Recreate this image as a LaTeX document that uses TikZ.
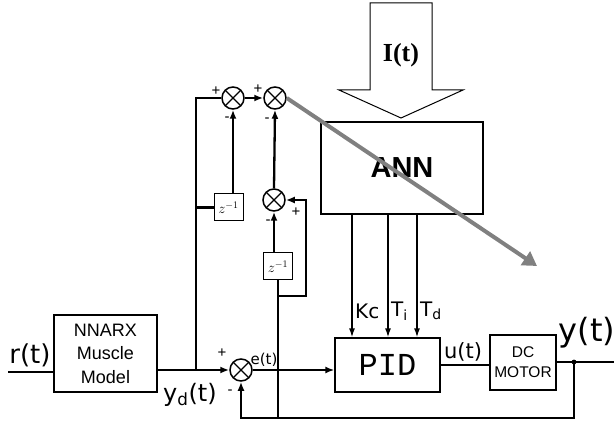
\documentclass[tikz,border=0pt]{standalone}
\usepackage{fontspec}
\setmainfont{Liberation Sans}
\newfontfamily\labfont{DejaVu Sans}
\newfontfamily\serffont{Liberation Serif}
\newfontfamily\codefont{Liberation Mono}
\usetikzlibrary{arrows.meta,positioning}

\tikzset{
  blk/.style={draw, line width=1.3pt, inner sep=0pt, align=center},
  dly/.style={blk, line width=1pt, minimum width=29pt, minimum height=27pt, font=\fontsize{14}{14}\selectfont},
  sumnode/.style={draw, circle, line width=1.5pt, minimum size=22pt, inner sep=0pt,
    path picture={\draw[line width=1.4pt] (path picture bounding box.north west) -- (path picture bounding box.south east)
      (path picture bounding box.north east) -- (path picture bounding box.south west);}},
  sig/.style={line width=2.3pt},
  arr/.style={sig, -{Latex[length=9pt,width=7pt]}},
  gain/.style={line width=1.4pt, -{Latex[length=9pt,width=6pt]}},
  sgn/.style={font=\fontsize{15}{15}\selectfont, inner sep=0pt},
  lab/.style={inner sep=0pt, font=\labfont\fontsize{#1}{#1}\selectfont},
}

\begin{document}
\begin{tikzpicture}[x=1pt,y=-1pt]
\useasboundingbox (0,0) rectangle (614,425);

% blocks
\node[blk, minimum width=103pt, minimum height=77pt, font=\fontsize{18}{23.5}\selectfont] (nnarx) at (105.5,353.5) {NNARX\\Muscle\\Model};
\node[blk, minimum width=105pt, minimum height=54pt, font=\codefont\fontsize{32}{32}\selectfont] (pid) at (387.5,365) {PID};
\node[blk, minimum width=66pt, minimum height=55pt, font=\fontsize{15.5}{20}\selectfont] (motor) at (523,362.5) {DC\\MOTOR};
\node[blk, minimum width=162pt, minimum height=92pt, font=\bfseries\fontsize{29}{29}\selectfont] (ann) at (402,168) {ANN};
\node[dly] (z1) at (228.5,207.5) {$z^{-1}$};
\node[dly] (z2) at (278,266.5) {$z^{-1}$};

% summing junctions
\node[sumnode] (s1) at (233,98) {};
\node[sumnode] (s2) at (275,98) {};
\node[sumnode] (s3) at (274,200) {};
\node[sumnode] (se) at (241,370) {};

% input I(t)
\draw[line width=1pt] (370,3) -- (432,3) -- (432,90) -- (463,90) -- (401,118) -- (339,90) -- (370,90) -- cycle;
\node[font=\serffont\bfseries\fontsize{26}{26}\selectfont] (inp) at (401,55) {I(t)};

% points
\coordinate (rin) at (8,372);
\coordinate (yd) at (196,370);
\coordinate (yout) at (574,362);
\coordinate (yend) at (614,362);
\coordinate (fb) at (574,418);
\coordinate (loop) at (306,296);
\coordinate (tip) at (537,266);

% signal lines
\draw[sig] (rin) -- (nnarx.west |- rin);
\draw[arr] (nnarx.east |- se) -- (se.west);
\draw[sig] (yd) |- (s1.west);
\draw[sig] (yd |- z1) -- (z1.west);
\draw[arr] (z1.north -| s1) -- (s1.south);
\draw[arr, line width=2.8pt] (s1.east) -- (s2.west);
\draw[arr] (s3.north) -- (s2.south);
\draw[arr] (z2.north -| s3) -- (s3.south);
\draw[sig] (fb -| z2) -- (z2.south);
\draw[arr] (z2.south |- loop) -- (loop) |- (s3.east);
\draw[arr] (se.east) -- (pid.west |- se);
\draw[sig] (pid.east) -- (pid.east -| motor.west);
\draw[sig] (motor.east |- yout) -- (yend);
\fill (yout) circle (2.4pt);
\draw[arr] (yout) -- (fb) -| (se.south);

% gains from ANN
\foreach \gx/\glab in {352/Kc, 388/T\textsubscript{i}, 417/T\textsubscript{d}} {
  \draw[gain] (\gx,0 |- ann.south) -- (\gx,0 |- pid.north);
  \node[lab=20, anchor=west] at (\gx+3,311) {\glab};
}

% labels
\node[lab=26] (rlab) at (30,355) {r(t)};
\node[lab=24] (ydlab) at (190,395) {y\textsubscript{d}(t)};
\node[lab=15] (elab) at (264,360) {e(t)};
\node[lab=21] (ulab) at (463,352) {u(t)};
\node[lab=32] (ylab) at (587,333) {y(t)};

% signs
\node[sgn] at (216,91) {+};
\node[sgn] at (227,119) {-};
\node[sgn] at (258,89) {+};
\node[sgn] at (267,120) {-};
\node[sgn] at (268,222) {-};
\node[sgn] at (296,212) {+};
\node[sgn] at (222,353) {+};
\node[sgn] at (230,392) {-};

% grey arrow across ANN
\draw[gray, line width=4pt, -{Triangle[length=14pt,width=16pt]}] (s2.east) -- (tip);
\end{tikzpicture}
\end{document}
